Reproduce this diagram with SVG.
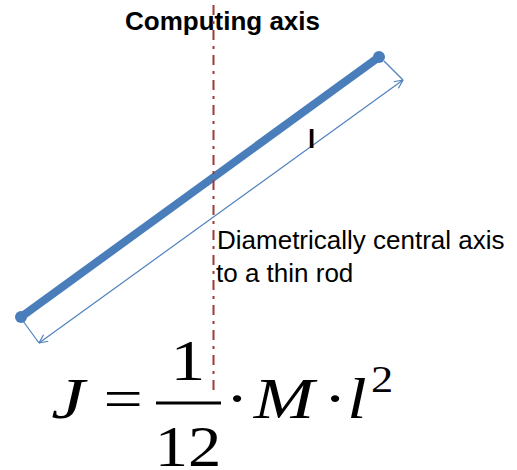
<svg xmlns="http://www.w3.org/2000/svg" width="517" height="470" viewBox="0 0 517 470">
<defs>
<style>
.lbl{font-family:"Liberation Sans",Arial,sans-serif;fill:#000}
.math{font-family:"Liberation Serif","Times New Roman",serif;fill:#000;text-anchor:middle}
.it{font-style:italic}
.dim{stroke:#4F81BD;stroke-width:1.2;fill:none}
</style>
<marker id="arr" viewBox="0 0 10 10" refX="9.5" refY="5" markerWidth="10" markerHeight="10" markerUnits="userSpaceOnUse" orient="auto-start-reverse">
<path d="M1,1 L9.5,5 L1,9" fill="none" stroke="#4F81BD" stroke-width="1.2"/>
</marker>
</defs>
<rect width="517" height="470" fill="#fff"/>
<g id="title">
<text class="lbl" x="125" y="30" font-size="26" font-weight="bold">Computing axis</text>
</g>
<g id="rod">
<line x1="21" y1="317" x2="379" y2="57" stroke="#4A7EBB" stroke-width="8"/>
<circle cx="21" cy="317" r="6" fill="#4A7EBB"/>
<circle cx="379" cy="57" r="6" fill="#4A7EBB"/>
</g>
<g id="connectors">
<line class="dim" x1="384" y1="61" x2="403" y2="80"/>
<line class="dim" x1="23" y1="321" x2="39" y2="343"/>
<line class="dim" x1="39" y1="343" x2="403" y2="80" marker-start="url(#arr)" marker-end="url(#arr)"/>
<line x1="213.5" y1="5" x2="213.5" y2="396" stroke="#A03A3A" stroke-width="2" stroke-dasharray="10 6 3 6"/>
</g>
<g id="length-label">
<text class="lbl" x="308" y="148" font-size="26" font-weight="bold" fill="#1a0000">l</text>
</g>
<g id="axis-label">
<text class="lbl" x="217" y="249" font-size="26">Diametrically central axis</text>
<text class="lbl" x="216" y="282" font-size="26">to a thin rod</text>
</g>
<g id="formula">
<text class="math it" transform="translate(68 418) scale(1.3 1)" font-size="58">J</text>
<text class="math" transform="translate(123 418) scale(1.2 1)" font-size="58">=</text>
<rect x="156" y="401.5" width="65" height="3" fill="#000"/>
<text class="math" transform="translate(188 380) scale(1.2 1)" font-size="58">1</text>
<text class="math" transform="translate(188 466) scale(1.15 1)" font-size="58">12</text>
<text class="math" transform="translate(237 418) scale(1.2 1)" font-size="58">·</text>
<text class="math it" transform="translate(284 418) scale(1.25 1)" font-size="58">M</text>
<text class="math" transform="translate(335 418) scale(1.2 1)" font-size="58">·</text>
<text class="math it" transform="translate(357 418) scale(1.2 1)" font-size="58">l</text>
<text class="math" transform="translate(382 392) scale(1.2 1)" font-size="37">2</text>
</g>
</svg>
